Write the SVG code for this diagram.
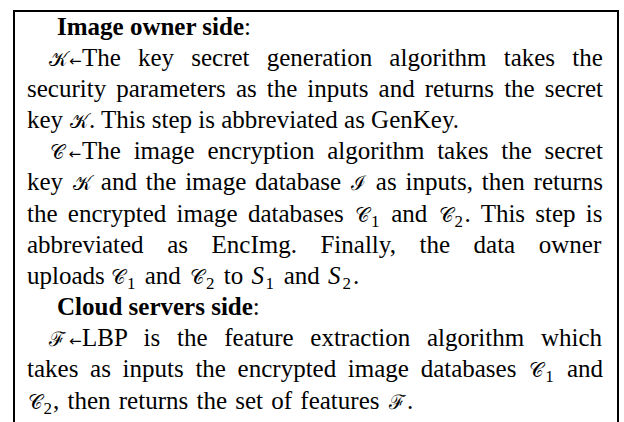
<svg xmlns="http://www.w3.org/2000/svg" width="624" height="422" viewBox="0 0 624 422">
<style>
text{font-family:"Liberation Serif","Times New Roman",serif;font-size:25px;fill:#000}
.b{font-weight:bold}
.m{font-size:20px}
.i{font-style:italic}
.s{font-size:17px}
.a{font-family:"DejaVu Sans",sans-serif;font-size:15px}
</style>
<rect x="0" y="0" width="624" height="422" fill="#fff"/>
<rect x="14" y="11" width="604" height="440" fill="none" stroke="#000" stroke-width="2"/>
<g id="owner">
<text x="57" y="35"><tspan class="b">Image owner side</tspan>:</text>
<text y="66" word-spacing="10.9"><tspan x="49" class="m">𝒦</tspan><tspan x="69" class="a">←</tspan><tspan x="82">The key secret generation algorithm takes the</tspan></text>
<text x="27" y="97" word-spacing="3.8">security parameters as the inputs and returns the secret</text>
<text y="128"><tspan x="27">key </tspan><tspan x="70" class="m">𝒦</tspan><tspan x="89">. This step is abbreviated as GenKey.</tspan></text>
<text y="159" word-spacing="6.52"><tspan x="49.5" class="m">𝒞</tspan><tspan x="68.5" class="a">←</tspan><tspan x="82">The image encryption algorithm takes the secret</tspan></text>
<text y="190" word-spacing="2.59"><tspan x="27">key </tspan><tspan x="73" class="m">𝒦</tspan><tspan x="92"> and the image database </tspan><tspan x="351" class="m">ℐ</tspan><tspan x="367"> as inputs, then returns</tspan></text>
<text y="222" word-spacing="4"><tspan x="27">the encrypted image databases </tspan><tspan x="355" class="m">𝒞</tspan><tspan x="371" y="227" class="s">1</tspan><tspan x="381" y="222"> and </tspan><tspan x="438.6" class="m">𝒞</tspan><tspan x="454.6" y="227" class="s">2</tspan><tspan x="464.6" y="222">. This step is</tspan></text>
<text x="27" y="253" word-spacing="17.3">abbreviated as EncImg. Finally, the data owner</text>
<text y="284" word-spacing="1.5"><tspan x="27">uploads </tspan><tspan x="111" class="m">𝒞</tspan><tspan x="127" y="289" class="s">1</tspan><tspan x="137" y="284"> and </tspan><tspan x="190" class="m">𝒞</tspan><tspan x="206" y="289" class="s">2</tspan><tspan x="216" y="284"> to </tspan><tspan x="251.5" class="i">S</tspan><tspan x="265.5" y="289" class="s">1</tspan><tspan x="276" y="284"> and </tspan><tspan x="328" class="i">S</tspan><tspan x="342.5" y="289" class="s">2</tspan><tspan x="353" y="284">.</tspan></text>
</g>
<g id="cloud">
<text x="57" y="315"><tspan class="b">Cloud servers side</tspan>:</text>
<text y="346" word-spacing="10.45"><tspan x="49" class="m">ℱ</tspan><tspan x="69" class="a">←</tspan><tspan x="82">LBP is the feature extraction algorithm which</tspan></text>
<text y="377" word-spacing="5.44"><tspan x="27">takes as inputs the encrypted image databases </tspan><tspan x="529.2" class="m">𝒞</tspan><tspan x="545.2" y="382" class="s">1</tspan><tspan x="555.2" y="377"> and</tspan></text>
<text y="409" word-spacing="2"><tspan x="27.5" class="m">𝒞</tspan><tspan x="43.5" y="414" class="s">2</tspan><tspan x="53" y="409">, then returns the set of features </tspan><tspan x="389" class="m">ℱ</tspan><tspan x="407">.</tspan></text>
</g>
</svg>
